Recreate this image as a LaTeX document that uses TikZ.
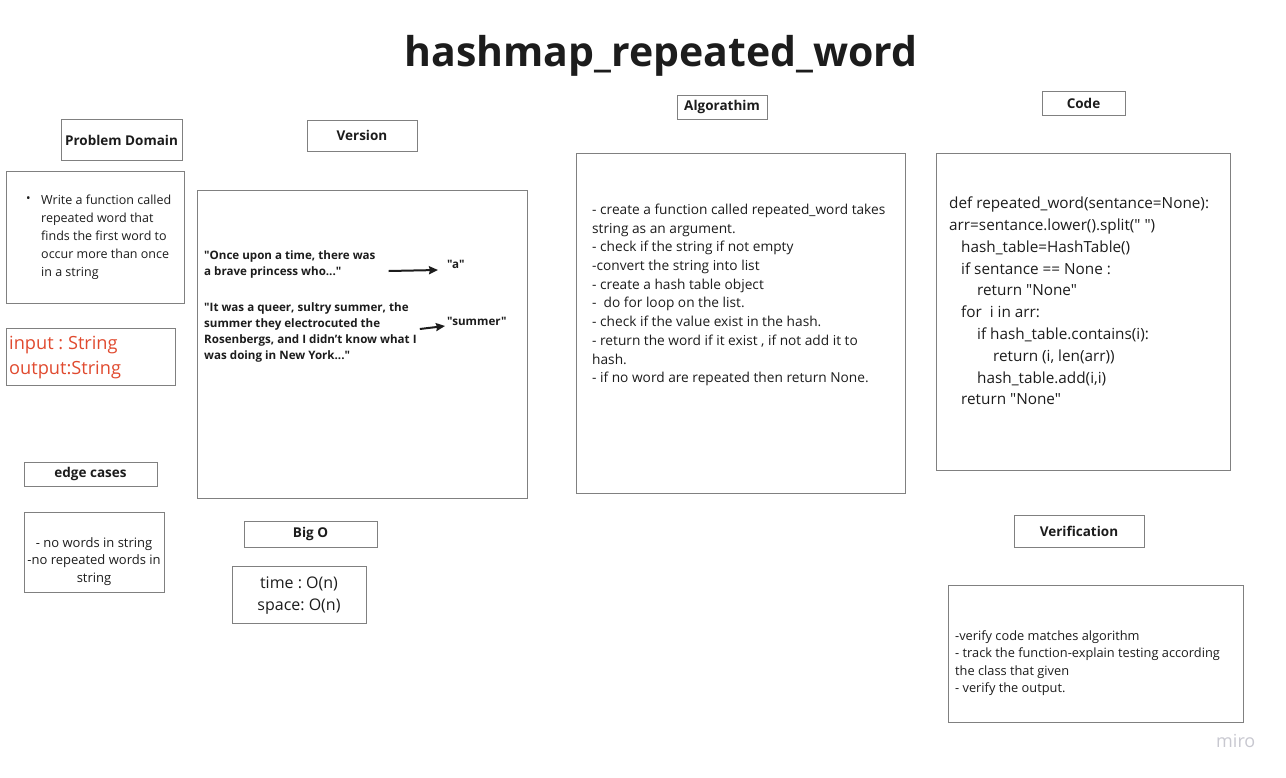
\documentclass[tikz,border=0pt]{standalone}
\usepackage{fontspec}
\setmainfont{Open Sans}[Ligatures=TeXOff]
\usetikzlibrary{arrows.meta}
\frenchspacing

\definecolor{boxgray}{HTML}{808080}
\definecolor{inkred}{HTML}{E04A2F}
\definecolor{ink}{HTML}{1C1C1C}
\definecolor{mirogray}{HTML}{C8C8D0}

\newcommand{\fs}[2]{\fontsize{#1}{#2}\selectfont}

\begin{document}
\begin{tikzpicture}[x=1pt, y=-1pt, >={Stealth[length=9pt, width=8pt, inset=1pt]}]
    \tikzstyle{box} = [draw=boxgray, line width=1pt, inner sep=0pt]
    \tikzstyle{head} = [box, text=ink, font=\fs{13.5}{16}\bfseries]
    \tikzstyle{txt} = [inner sep=0pt, text=ink, align=left, anchor=west]
    \tikzstyle{res} = [->, line width=2pt, ink]
    \useasboundingbox (0,0) rectangle (1286,777);

	% title
	\node[text=ink, font=\fs{41}{46}\bfseries] (title) at (661,56) {hashmap\_repeated\_word};

	% problem domain column
	\node[head, minimum width=121, minimum height=41] (pdhead) at (121.5,140) {Problem Domain};
	\node[box, minimum width=178, minimum height=132] (pdbox) at (95,237) {};
	\node[txt, font=\fs{12}{14}] (pdbul) at (26,199.5) {\textbullet};
	\node[txt, font=\fs{12.5}{18}] (pdtxt) at (41,237.5)
		{Write a function called\\repeated word that\\finds the first word to\\occur more than once\\in a string};
	\node[box, minimum width=169, minimum height=57] (iobox) at (90.5,356.5) {};
	\node[txt, text=inkred, font=\fs{18.2}{25}] (iotxt) at (9,357.5) {input : String\\output:String};
	\node[head, minimum width=133, minimum height=24] (edgehead) at (90.5,474) {edge cases};
	\node[box, minimum width=140, minimum height=80] (edgebox) at (94,552) {};
	\node[txt, anchor=center, align=center, font=\fs{13}{17.5}] (edgetxt) at (94,561.5)
		{- no words in string\\-no repeated words in\\string};

	% version column
	\node[head, minimum width=110, minimum height=31] (verhead) at (362,135.5) {Version};
	\node[box, minimum width=330, minimum height=308] (verbox) at (362,344) {};
	\node[txt, font=\fs{11.6}{16}\bfseries] (q1) at (204,264)
		{"Once upon a time, there was\\a brave princess who..."};
	\node[txt, font=\fs{11.6}{16}\bfseries] (r1) at (447,264) {"a"};
	\node[txt, font=\fs{11.6}{16}\bfseries] (q2) at (204,332)
		{"It was a queer, sultry summer, the\\summer they electrocuted the\\Rosenbergs, and I didn’t know what I\\was doing in New York..."};
	\node[txt, font=\fs{11.6}{16}\bfseries] (r2) at (447,321) {"summer"};
	\draw[res] ([shift={(13,7)}]q1.east) -- ([shift={(-9,6)}]r1.west);
	\draw[res] ([shift={(3,-3)}]q2.east) -- ([shift={(-2,5)}]r2.west);
	\node[head, minimum width=133, minimum height=26] (bighead) at (310.5,534) {Big O};
	\node[box, minimum width=134, minimum height=57] (bigbox) at (299,594.5) {};
	\node[txt, anchor=center, align=center, font=\fs{16}{22}] (bigtxt) at (299,596)
		{time : O(n)\\space: O(n)};

	% algorithm column
	\node[head, minimum width=90, minimum height=24] (alghead) at (722,107) {Algorathim};
	\node[box, minimum width=329, minimum height=340] (algbox) at (740.5,323) {};
	\node[txt, font=\fs{13.7}{18.7}] (algtxt) at (592,295)
		{- create a function called repeated\_word takes\\string as an argument.\\- check if the string if not empty\\-convert the string into list\\- create a hash table object\\-\ \ do for loop on the list.\\- check if the value exist in the hash.\\- return the word if it exist , if not add it to\\hash.\\- if no word are repeated then return None.};

	% code column
	\node[head, minimum width=83, minimum height=24] (codehead) at (1083.5,103) {Code};
	\node[box, minimum width=294, minimum height=317] (codebox) at (1083,311.5) {};
	\node[txt, font=\fs{15.3}{21.8}] (codetxt) at (949,301)
		{def repeated\_word(sentance=None):\\
		 arr=sentance.lower().split(" ")\\
		 \hspace*{12pt}hash\_table=HashTable()\\
		 \hspace*{12pt}if sentance == None :\\
		 \hspace*{28pt}return "None"\\
		 \hspace*{12pt}for\ \ i in arr:\\
		 \hspace*{28pt}if hash\_table.contains(i):\\
		 \hspace*{44pt}return (i, len(arr))\\
		 \hspace*{28pt}hash\_table.add(i,i)\\
		 \hspace*{12pt}return "None"};
	\node[head, minimum width=130, minimum height=32] (vrfhead) at (1079,531) {Verification};
	\node[box, minimum width=295, minimum height=137] (vrfbox) at (1095.5,653.5) {};
	\node[txt, font=\fs{12.8}{17.5}] (vrftxt) at (955,663)
		{-verify code matches algorithm\\- track the function-explain testing according\\the class that given\\- verify the output.};

	\node[txt, text=mirogray, font=\fs{18}{20}] (miro) at (1216,741) {miro};
\end{tikzpicture}
\end{document}
